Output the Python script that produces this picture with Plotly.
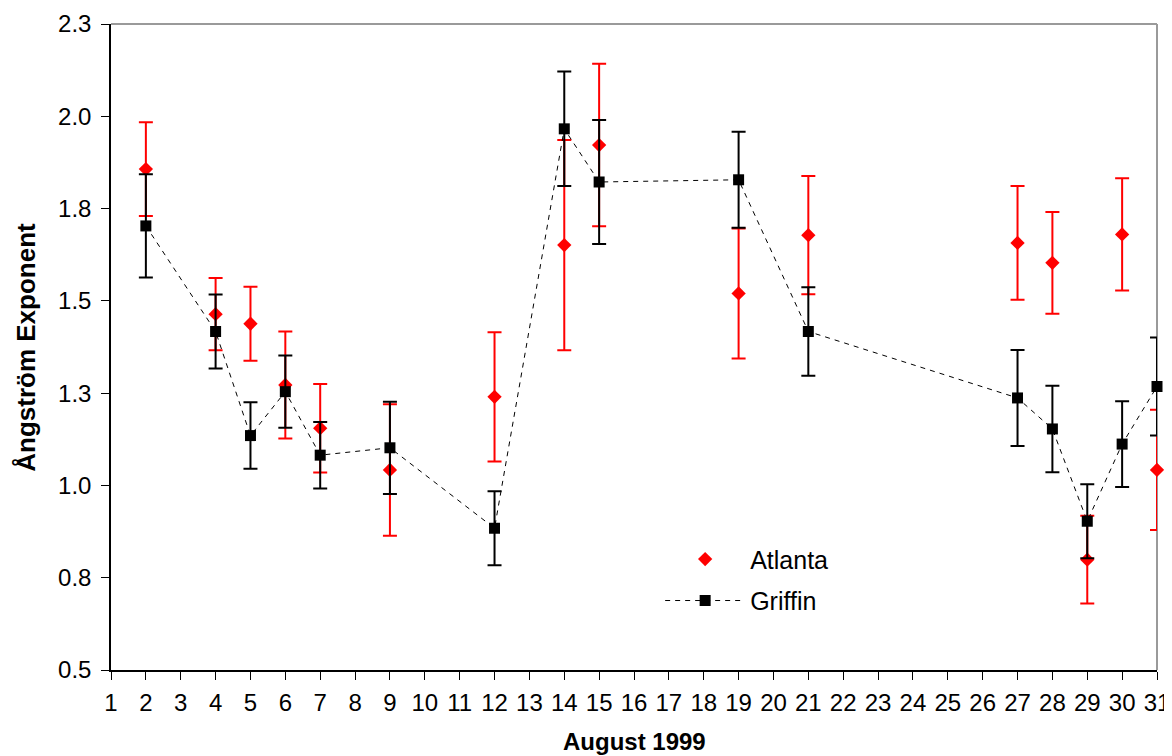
import plotly.graph_objects as go

# ---- data ----
days = [2, 4, 5, 6, 7, 9, 12, 14, 15, 19, 21, 27, 28, 29, 30, 31]
atlanta = [1.857, 1.464, 1.438, 1.272, 1.155, 1.042, 1.240, 1.651, 1.922, 1.520, 1.678, 1.657, 1.603, 0.799, 1.680, 1.042]
atlanta_err = [0.127, 0.098, 0.100, 0.145, 0.120, 0.178, 0.175, 0.285, 0.220, 0.176, 0.160, 0.154, 0.138, 0.119, 0.152, 0.163]
griffin = [1.703, 1.417, 1.135, 1.254, 1.082, 1.102, 0.884, 1.966, 1.822, 1.828, 1.417, 1.237, 1.153, 0.903, 1.112, 1.268]
griffin_err = [0.140, 0.100, 0.090, 0.098, 0.090, 0.125, 0.100, 0.155, 0.168, 0.130, 0.120, 0.130, 0.117, 0.100, 0.116, 0.133]

x_ticks = list(range(1, 32))
y_ticks = [0.5, 0.75, 1.0, 1.25, 1.5, 1.75, 2.0, 2.25]
y_ticktext = ["0.5", "0.8", "1.0", "1.3", "1.5", "1.8", "2.0", "2.3"]

x_title = "August 1999"
y_title = "Ångström Exponent"

FONT = "Liberation Sans, Arial, sans-serif"

fig = go.Figure()

fig.add_trace(go.Scatter(
    x=days, y=atlanta, name="Atlanta", mode="markers",
    marker=dict(symbol="diamond", size=11, color="#ff0000"),
    error_y=dict(type="data", array=atlanta_err, visible=True,
                 color="#ff0000", thickness=2, width=7),
    cliponaxis=False, legendgroup="a",
))

fig.add_trace(go.Scatter(
    x=days, y=griffin, name="Griffin", mode="lines+markers",
    line=dict(color="black", width=1, dash="5px,5px"),
    marker=dict(symbol="square", size=11, color="black"),
    error_y=dict(type="data", array=griffin_err, visible=True,
                 color="black", thickness=2, width=7),
    cliponaxis=False, legendgroup="g",
))

# the page body has an 8px margin, so the figure is 8px smaller than the window
fig.update_layout(
    width=1164, height=748,
    margin=dict(l=103, r=15, t=16, b=86),
    paper_bgcolor="white", plot_bgcolor="white",
    font=dict(family=FONT, size=24, color="black"),
    showlegend=True,
    legend=dict(x=0.525, y=0.207, xanchor="left", yanchor="top",
                bgcolor="rgba(0,0,0,0)", font=dict(size=25),
                tracegroupgap=6, itemwidth=80),
    shapes=[
        dict(type="line", xref="paper", yref="paper", x0=0, x1=1, y0=1, y1=1,
             line=dict(color="#9a9a9a", width=2), layer="below"),
        dict(type="line", xref="paper", yref="paper", x0=1, x1=1, y0=0, y1=1,
             line=dict(color="#9a9a9a", width=2), layer="below"),
    ],
    annotations=[
        dict(text="<b>" + x_title + "</b>", xref="paper", yref="paper",
             x=0.5, y=-0.11, xanchor="center", yanchor="middle",
             showarrow=False, font=dict(size=24)),
        dict(text="<b>" + y_title + "</b>", xref="paper", yref="paper",
             x=-0.0815, y=0.5, xanchor="center", yanchor="middle",
             textangle=-90, showarrow=False, font=dict(size=26)),
    ],
)

fig.update_xaxes(
    range=[1, 31], tickmode="array", tickvals=x_ticks,
    ticks="outside", ticklen=8, tickwidth=1, tickcolor="black",
    showline=True, linecolor="black", linewidth=1.5,
    showgrid=False, zeroline=False, automargin=False,
    tickfont=dict(size=24), ticklabelstandoff=2,
)

fig.update_yaxes(
    range=[0.5, 2.25], tickmode="array", tickvals=y_ticks, ticktext=y_ticktext,
    ticks="outside", ticklen=8, tickwidth=1, tickcolor="black",
    showline=True, linecolor="black", linewidth=1.5,
    showgrid=False, zeroline=False, automargin=False,
    tickfont=dict(size=24), ticklabelstandoff=5,
)

fig.write_html("out.html")
